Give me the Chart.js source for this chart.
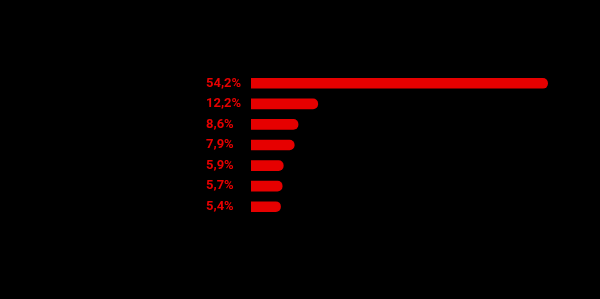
<!DOCTYPE html>
<html>
<head>
<meta charset="utf-8">
<script src="https://cdn.jsdelivr.net/npm/chart.js@4/dist/chart.umd.min.js"></script>
<style>
  html, body { margin: 0; padding: 0; background: #000; }
  #wrap { width: 600px; height: 299px; position: relative; }
</style>
</head>
<body>
<div id="wrap"><canvas id="c"></canvas></div>
<script>
const values = [54.2, 12.2, 8.6, 7.9, 5.9, 5.7, 5.4];
const tickLabels = ["54,2%", "12,2%", "8,6%", "7,9%", "5,9%", "5,7%", "5,4%"];
const RED = "rgb(230,0,0)";

new Chart(document.getElementById("c"), {
  type: "bar",
  data: {
    labels: tickLabels,
    datasets: [{
      data: values,
      backgroundColor: RED,
      borderWidth: 0,
      borderRadius: 5,
      borderSkipped: "start",
      barThickness: 10
    }]
  },
  options: {
    indexAxis: "y",
    responsive: true,
    maintainAspectRatio: false,
    animation: false,
    layout: { padding: { left: 206, right: 48, top: 73, bottom: 82 } },
    plugins: { legend: { display: false }, tooltip: { enabled: false } },
    scales: {
      x: { display: false, min: 0, max: 55 },
      y: {
        grid: { display: false },
        border: { display: false },
        afterFit: (s) => { s.width = 45; },
        ticks: {
          color: RED,
          crossAlign: "far",
          padding: 0,
          font: { family: "Roboto", size: 13, weight: "bold" }
        }
      }
    }
  }
});
</script>
</body>
</html>
